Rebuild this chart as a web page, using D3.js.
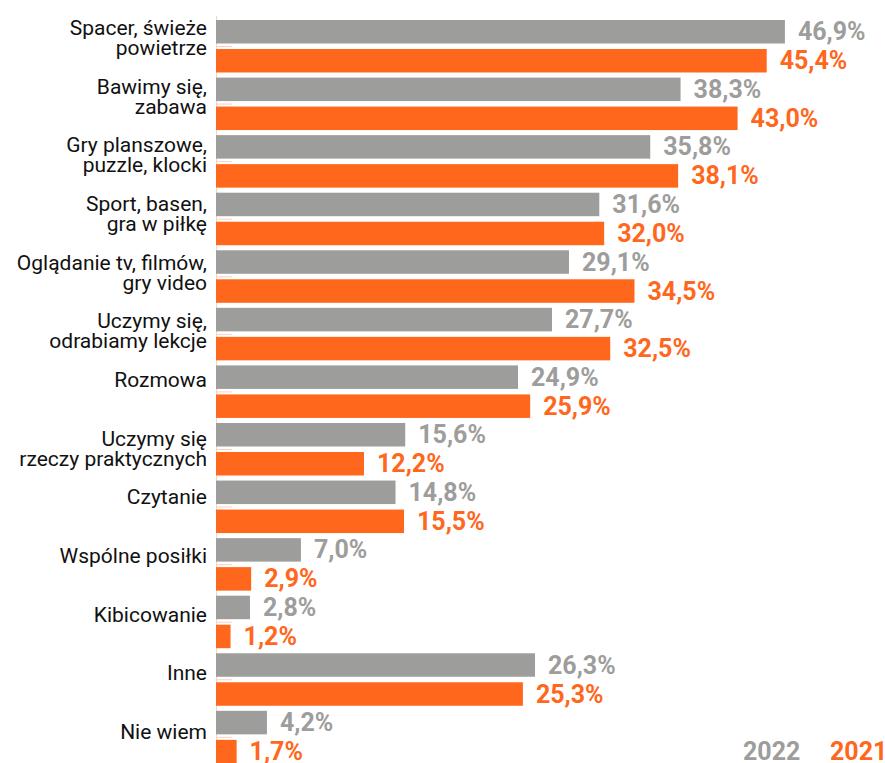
<!DOCTYPE html>
<html>
<head>
<meta charset="utf-8">
<script src="https://cdn.jsdelivr.net/npm/d3@7/dist/d3.min.js"></script>
<style>
  html, body { margin: 0; padding: 0; background: #fff; }
  svg { display: block; }
</style>
</head>
<body>
<svg id="chart" width="885" height="763"></svg>
<script>
// Activity categories (each entry is the label split into lines)
const categories = [
  ["Spacer, świeże", "powietrze"],
  ["Bawimy się,", "zabawa"],
  ["Gry planszowe,", "puzzle, klocki"],
  ["Sport, basen,", "gra w piłkę"],
  ["Oglądanie tv, filmów,", "gry video"],
  ["Uczymy się,", "odrabiamy lekcje"],
  ["Rozmowa"],
  ["Uczymy się", "rzeczy praktycznych"],
  ["Czytanie"],
  ["Wspólne posiłki"],
  ["Kibicowanie"],
  ["Inne"],
  ["Nie wiem"]
];
const values2022 = [46.9, 38.3, 35.8, 31.6, 29.1, 27.7, 24.9, 15.6, 14.8, 7.0, 2.8, 26.3, 4.2];
const values2021 = [45.4, 43.0, 38.1, 32.0, 34.5, 32.5, 25.9, 12.2, 15.5, 2.9, 1.2, 25.3, 1.7];
const seriesNames = ["2022", "2021"];

const GRAY = "#9d9d9b";
const ORANGE = "#ff671d";
const AXIS = "#fbd2bc";

const svg = d3.select("#chart");
const n = categories.length;

const x = d3.scaleLinear().domain([0, 50]).range([216, 822.5]);
const y = d3.scaleLinear().domain([0, n - 1]).range([20, 20 + 57.57 * (n - 1)]);
const yText = d3.scaleLinear().domain([0, n - 1]).range([35, 739]);
const barH = 23.5;
const subOffset = [0, 29];

const locale = d3.formatLocale({ decimal: ",", thousands: " ", grouping: [3], currency: ["", ""] });
const fmt = v => locale.format(".1f")(v) + "%";

const rows = categories.map((c, i) => ({ i, label: c, v: [values2022[i], values2021[i]] }));

// faint axis line and group ticks
svg.append("line")
  .attr("x1", x(0) + 0.5).attr("x2", x(0) + 0.5)
  .attr("y1", y(0) - 4).attr("y2", 763)
  .attr("stroke", AXIS).attr("stroke-width", 1);
svg.append("g").selectAll("line").data(rows).join("line")
  .attr("x1", x(0)).attr("x2", x(0) + 16)
  .attr("y1", d => y(d.i) + 26.5).attr("y2", d => y(d.i) + 26.5)
  .attr("stroke", AXIS).attr("stroke-width", 1);

const colors = [GRAY, ORANGE];

const g = svg.append("g").selectAll("g").data(rows).join("g");

[0, 1].forEach(s => {
  g.append("rect")
    .attr("x", x(0))
    .attr("y", d => y(d.i) + subOffset[s])
    .attr("width", d => x(d.v[s]) - x(0))
    .attr("height", barH)
    .attr("fill", colors[s]);
  g.append("text")
    .attr("x", d => x(d.v[s]) + 13)
    .attr("y", d => y(d.i) + subOffset[s] + barH / 2 + 8.5)
    .attr("fill", colors[s])
    .style("font-family", "Roboto, sans-serif")
    .style("font-weight", 700)
    .style("font-size", "25px")
    .text(d => fmt(d.v[s]));
});

// category labels
g.append("text")
  .attr("text-anchor", "end")
  .attr("fill", "#111")
  .style("font-family", "Roboto, sans-serif")
  .style("font-size", "21px")
  .each(function (d) {
    const t = d3.select(this);
    d.label.forEach((line, k) => {
      t.append("tspan")
        .attr("x", 207)
        .attr("y", yText(d.i) + k * 20)
        .text(line);
    });
  });

// legend
const legend = svg.append("g")
  .style("font-family", "Roboto, sans-serif")
  .style("font-weight", 700)
  .style("font-size", "25px");
legend.append("text").attr("x", 743).attr("y", 760).attr("fill", GRAY).text(seriesNames[0]);
legend.append("text").attr("x", 830).attr("y", 760).attr("fill", ORANGE).text(seriesNames[1]);
</script>
</body>
</html>
